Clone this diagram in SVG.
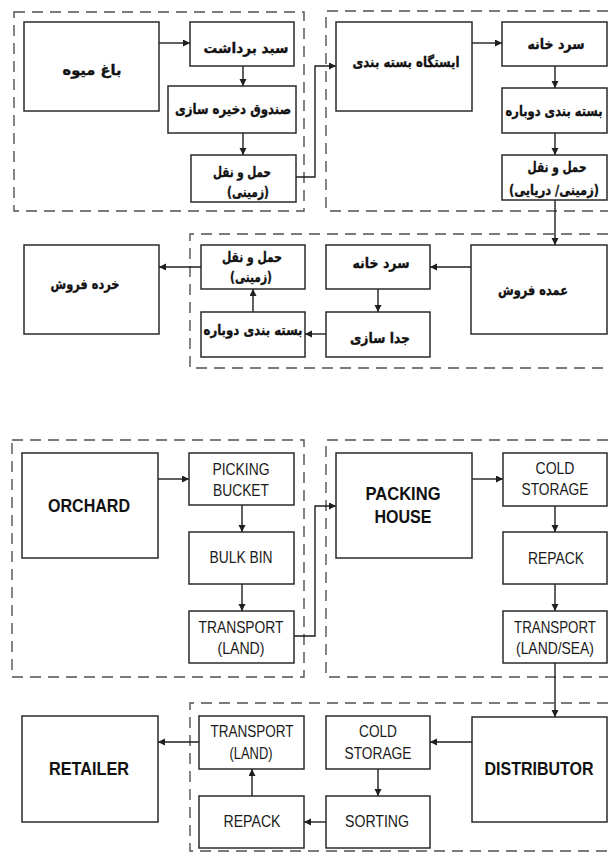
<svg xmlns="http://www.w3.org/2000/svg" width="608" height="857" viewBox="0 0 608 857">
<style>
.bg{fill:#fff}
.dash{fill:none;stroke:#505050;stroke-width:1.4;stroke-dasharray:11 7}
.box{fill:#fff;stroke:#2a2a2a;stroke-width:1.5}
.ln{fill:none;stroke:#1e1e1e;stroke-width:1.4}
.fa{font-family:"DejaVu Sans",sans-serif;font-weight:bold;font-size:14px;fill:#111;stroke:#111;stroke-width:0.35;text-anchor:middle}
.en{font-family:"Liberation Sans",Arial,sans-serif;font-size:16.5px;fill:#1a1a1a;text-anchor:middle}
.enb{font-family:"Liberation Sans",Arial,sans-serif;font-weight:bold;font-size:17.5px;fill:#111;text-anchor:middle}
</style>
<defs>
<marker id="ah" markerUnits="userSpaceOnUse" markerWidth="8" markerHeight="8" refX="7" refY="3.5" orient="auto">
<path d="M0,0 L7,3.5 L0,7 z" fill="#1e1e1e"/>
</marker>
</defs>
<rect class="bg" x="0" y="0" width="608" height="857"/>

<g id="groups">
<rect class="dash" x="14" y="12" width="290" height="199"/>
<path class="dash" d="M608,11 H326 V211 H608"/>
<path class="dash" d="M608,234 H190 V368 H608"/>
<rect class="dash" x="12" y="440" width="292" height="237"/>
<path class="dash" d="M608,440 H326 V677 H608"/>
<path class="dash" d="M608,703 H190 V851 H608"/>
</g>

<g id="connectors">
<path class="ln" d="M159,43 H190" marker-end="url(#ah)"/>
<path class="ln" d="M243,66 V86" marker-end="url(#ah)"/>
<path class="ln" d="M243,133 V155" marker-end="url(#ah)"/>
<path class="ln" d="M296,177 H315 V66 H336" marker-end="url(#ah)"/>
<path class="ln" d="M472,43 H502" marker-end="url(#ah)"/>
<path class="ln" d="M555,66 V88" marker-end="url(#ah)"/>
<path class="ln" d="M555,133 V155" marker-end="url(#ah)"/>
<path class="ln" d="M555,200 V245" marker-end="url(#ah)"/>
<path class="ln" d="M471,267 H430" marker-end="url(#ah)"/>
<path class="ln" d="M378,289 V312" marker-end="url(#ah)"/>
<path class="ln" d="M326,334 H305" marker-end="url(#ah)"/>
<path class="ln" d="M253,312 V289" marker-end="url(#ah)"/>
<path class="ln" d="M201,267 H159" marker-end="url(#ah)"/>

<path class="ln" d="M158,479 H189" marker-end="url(#ah)"/>
<path class="ln" d="M242,505 V532" marker-end="url(#ah)"/>
<path class="ln" d="M242,584 V611" marker-end="url(#ah)"/>
<path class="ln" d="M294,636 H315 V506 H336" marker-end="url(#ah)"/>
<path class="ln" d="M472,479 H503" marker-end="url(#ah)"/>
<path class="ln" d="M555,506 V532" marker-end="url(#ah)"/>
<path class="ln" d="M555,584 V611" marker-end="url(#ah)"/>
<path class="ln" d="M555,663 V717" marker-end="url(#ah)"/>
<path class="ln" d="M472,742 H430" marker-end="url(#ah)"/>
<path class="ln" d="M378,769 V796" marker-end="url(#ah)"/>
<path class="ln" d="M326,822 H304" marker-end="url(#ah)"/>
<path class="ln" d="M252,796 V769" marker-end="url(#ah)"/>
<path class="ln" d="M199,742 H158" marker-end="url(#ah)"/>
</g>

<!-- Persian diagram -->
<g id="fa-orchard"><rect class="box" x="24" y="22" width="135" height="89"/><text class="fa" x="92" y="75" textLength="59" lengthAdjust="spacingAndGlyphs">باغ میوه</text></g>
<g id="fa-bucket"><rect class="box" x="190" y="22" width="104" height="44"/><text class="fa" x="246" y="53" textLength="85" lengthAdjust="spacingAndGlyphs">سبد برداشت</text></g>
<g id="fa-bin"><rect class="box" x="168" y="86" width="128" height="47"/><text class="fa" x="233" y="114" textLength="116" lengthAdjust="spacingAndGlyphs">صندوق دخیره سازی</text></g>
<g id="fa-transport1"><rect class="box" x="191" y="155" width="105" height="47"/><text class="fa" x="242" y="177" textLength="58" lengthAdjust="spacingAndGlyphs">حمل و نقل</text><text class="fa" x="248" y="197" textLength="42" lengthAdjust="spacingAndGlyphs">(زمینی)</text></g>
<g id="fa-packing"><rect class="box" x="336" y="22" width="136" height="89"/><text class="fa" x="406" y="67" textLength="107" lengthAdjust="spacingAndGlyphs">ایستگاه بسته بندی</text></g>
<g id="fa-cold1"><rect class="box" x="502" y="22" width="105" height="44"/><text class="fa" x="556" y="49" textLength="57" lengthAdjust="spacingAndGlyphs">سرد خانه</text></g>
<g id="fa-repack1"><rect class="box" x="502" y="88" width="105" height="45"/><text class="fa" x="554" y="116" textLength="97" lengthAdjust="spacingAndGlyphs">بسته بندی دوباره</text></g>
<g id="fa-transport2"><rect class="box" x="502" y="155" width="105" height="45"/><text class="fa" x="557" y="172" textLength="59" lengthAdjust="spacingAndGlyphs">حمل و نقل</text><text class="fa" x="554" y="195" textLength="90" lengthAdjust="spacingAndGlyphs">(زمینی/ دریایی)</text></g>
<g id="fa-distributor"><rect class="box" x="471" y="245" width="136" height="89"/><text class="fa" x="533" y="295" textLength="70" lengthAdjust="spacingAndGlyphs">عمده فروش</text></g>
<g id="fa-cold2"><rect class="box" x="326" y="245" width="104" height="44"/><text class="fa" x="381" y="268" textLength="57" lengthAdjust="spacingAndGlyphs">سرد خانه</text></g>
<g id="fa-sorting"><rect class="box" x="326" y="312" width="104" height="45"/><text class="fa" x="380" y="343" textLength="60" lengthAdjust="spacingAndGlyphs">جدا سازی</text></g>
<g id="fa-repack2"><rect class="box" x="201" y="312" width="104" height="45"/><text class="fa" x="253" y="335" textLength="99" lengthAdjust="spacingAndGlyphs">بسته بندی دوباره</text></g>
<g id="fa-transport3"><rect class="box" x="201" y="245" width="104" height="44"/><text class="fa" x="252" y="262" textLength="60" lengthAdjust="spacingAndGlyphs">حمل و نقل</text><text class="fa" x="251" y="282" textLength="42" lengthAdjust="spacingAndGlyphs">(زمینی)</text></g>
<g id="fa-retailer"><rect class="box" x="24" y="245" width="135" height="89"/><text class="fa" x="85" y="289" textLength="69" lengthAdjust="spacingAndGlyphs">خرده فروش</text></g>

<!-- English diagram -->
<g id="orchard"><rect class="box" x="22" y="453" width="136" height="105"/><text class="enb" x="89" y="512" textLength="82" lengthAdjust="spacingAndGlyphs">ORCHARD</text></g>
<g id="picking-bucket"><rect class="box" x="189" y="453" width="105" height="52"/><text class="en" x="241" y="475" textLength="57" lengthAdjust="spacingAndGlyphs">PICKING</text><text class="en" x="241" y="496" textLength="56" lengthAdjust="spacingAndGlyphs">BUCKET</text></g>
<g id="bulk-bin"><rect class="box" x="189" y="532" width="105" height="52"/><text class="en" x="241" y="563" textLength="63" lengthAdjust="spacingAndGlyphs">BULK BIN</text></g>
<g id="transport-land1"><rect class="box" x="189" y="611" width="105" height="52"/><text class="en" x="241" y="633" textLength="85" lengthAdjust="spacingAndGlyphs">TRANSPORT</text><text class="en" x="241" y="654" textLength="47" lengthAdjust="spacingAndGlyphs">(LAND)</text></g>
<g id="packing-house"><rect class="box" x="336" y="453" width="136" height="105"/><text class="enb" x="403" y="500" textLength="75" lengthAdjust="spacingAndGlyphs">PACKING</text><text class="enb" x="403" y="523" textLength="57" lengthAdjust="spacingAndGlyphs">HOUSE</text></g>
<g id="cold-storage1"><rect class="box" x="503" y="453" width="104" height="53"/><text class="en" x="555" y="474" textLength="39" lengthAdjust="spacingAndGlyphs">COLD</text><text class="en" x="555" y="495" textLength="67" lengthAdjust="spacingAndGlyphs">STORAGE</text></g>
<g id="repack1"><rect class="box" x="503" y="532" width="104" height="52"/><text class="en" x="556" y="564" textLength="56" lengthAdjust="spacingAndGlyphs">REPACK</text></g>
<g id="transport-landsea"><rect class="box" x="503" y="611" width="104" height="52"/><text class="en" x="555" y="633" textLength="82" lengthAdjust="spacingAndGlyphs">TRANSPORT</text><text class="en" x="555" y="654" textLength="78" lengthAdjust="spacingAndGlyphs">(LAND/SEA)</text></g>
<g id="distributor"><rect class="box" x="472" y="717" width="135" height="105"/><text class="enb" x="539" y="775" textLength="109" lengthAdjust="spacingAndGlyphs">DISTRIBUTOR</text></g>
<g id="cold-storage2"><rect class="box" x="326" y="716" width="104" height="53"/><text class="en" x="378" y="737" textLength="38" lengthAdjust="spacingAndGlyphs">COLD</text><text class="en" x="378" y="759" textLength="67" lengthAdjust="spacingAndGlyphs">STORAGE</text></g>
<g id="sorting"><rect class="box" x="326" y="796" width="104" height="52"/><text class="en" x="377" y="827" textLength="64" lengthAdjust="spacingAndGlyphs">SORTING</text></g>
<g id="repack2"><rect class="box" x="199" y="796" width="105" height="52"/><text class="en" x="252" y="827" textLength="57" lengthAdjust="spacingAndGlyphs">REPACK</text></g>
<g id="transport-land2"><rect class="box" x="199" y="716" width="105" height="53"/><text class="en" x="252" y="737" textLength="83" lengthAdjust="spacingAndGlyphs">TRANSPORT</text><text class="en" x="251" y="759" textLength="43" lengthAdjust="spacingAndGlyphs">(LAND)</text></g>
<g id="retailer"><rect class="box" x="22" y="716" width="136" height="106"/><text class="enb" x="89" y="775" textLength="80" lengthAdjust="spacingAndGlyphs">RETAILER</text></g>
</svg>
